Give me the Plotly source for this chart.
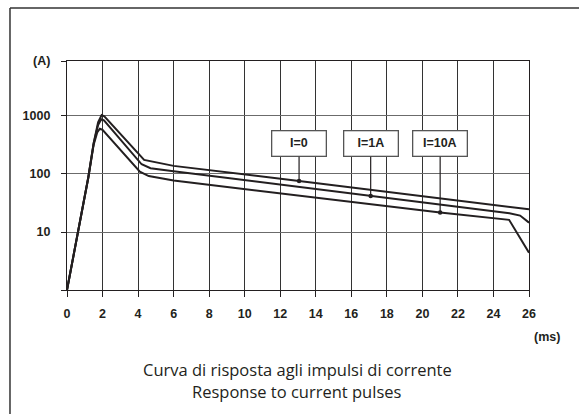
import numpy as np
import plotly.graph_objects as go

# time (ms) / current (A)
x_i0 = [0, 0.62, 1.2, 1.5, 1.75, 1.95, 2.1, 4.34, 6, 13.06, 26]
y_i0 = [1, 10, 88, 340, 780, 1040, 990, 175, 138, 75.8, 24.6]

x_i1 = [0, 0.62, 1.2, 1.5, 1.75, 1.93, 2.08, 4.2, 4.7, 6, 17.09, 24.9, 25.5, 26]
y_i1 = [1, 10, 88, 335, 700, 877, 840, 147, 126, 112, 41.8, 21, 19.2, 14.5]

x_i10 = [0, 0.62, 1.2, 1.5, 1.7, 1.85, 2.0, 4.1, 4.6, 6, 21.0, 24.88, 26]
y_i10 = [1, 10, 86, 320, 520, 603, 575, 110, 92, 77, 21.6, 16.2, 4.4]

labels = ["I=0", "I=1A", "I=10A"]
label_x = [13.06, 17.09, 21.0]
label_y = [75.8, 41.8, 21.6]
label_box_y = 331  # level of the label boxes (A)

x_ticks = list(range(0, 27, 2))
y_top = 10 ** 3.947
y_ticks = [1, 10, 100, 1000, y_top]
y_ticktext = ["", "10", "100", "1000", "(A)"]

INK = "#231f20"
tick_font = dict(family="Arial", size=12.5, color=INK, weight="bold")
caption_font = dict(family="Open Sans", size=16.5, color=INK)

fig = go.Figure()

for xs, ys in [(x_i0, y_i0), (x_i1, y_i1), (x_i10, y_i10)]:
    fig.add_trace(go.Scatter(x=xs, y=ys, mode="lines",
                             line=dict(color=INK, width=2), showlegend=False))

# dots where the labels point
fig.add_trace(go.Scatter(x=label_x, y=label_y, mode="markers",
                         marker=dict(color=INK, size=4.5), showlegend=False))

annotations = []
for txt, lx, ly in zip(labels, label_x, label_y):
    annotations.append(dict(
        x=lx, y=np.log10(ly), xref="x", yref="y",
        text=txt, showarrow=True,
        ax=lx, ay=np.log10(label_box_y), axref="x", ayref="y",
        arrowhead=0, arrowwidth=1.2, arrowcolor=INK, standoff=0,
        width=53, height=24, borderpad=0, borderwidth=1.3,
        bordercolor="#555555", bgcolor="white",
        font=tick_font,
    ))

annotations.append(dict(text="(ms)", x=1.039, y=-0.205, xref="paper", yref="paper",
                        xanchor="center", yanchor="middle", showarrow=False, font=tick_font))
annotations.append(dict(text="Curva di risposta agli impulsi di corrente", x=0.498, y=-0.345,
                        xref="paper", yref="paper", xanchor="center", yanchor="middle",
                        showarrow=False, font=caption_font))
annotations.append(dict(text="Response to current pulses", x=0.498, y=-0.445,
                        xref="paper", yref="paper", xanchor="center", yanchor="middle",
                        showarrow=False, font=caption_font))

fig.update_layout(
    width=579, height=414, autosize=False,
    margin=dict(l=67, r=50, t=61, b=124),
    paper_bgcolor="white", plot_bgcolor="white",
    template="none",
    annotations=annotations,
    shapes=[
        dict(type="line", xref="paper", yref="paper", x0=-0.1234, x1=1.2, y0=1.2314, y1=1.2314,
             line=dict(color="#333333", width=1.5)),
        dict(type="line", xref="paper", yref="paper", x0=-0.1234, x1=-0.1234, y0=1.2314, y1=-0.6,
             line=dict(color="#333333", width=1.5)),
    ],
    xaxis=dict(
        range=[0, 26], tickvals=x_ticks, ticks="outside", ticklen=6, tickwidth=1,
        tickcolor=INK, showgrid=True, gridcolor="#333333", gridwidth=1,
        showline=True, linecolor=INK, linewidth=1.2, mirror=True, zeroline=False,
        tickfont=tick_font, ticklabelstandoff=6,
    ),
    yaxis=dict(
        type="log", range=[0, 3.948], tickvals=y_ticks, ticktext=y_ticktext,
        ticks="outside", ticklen=5, tickwidth=1, tickcolor=INK,
        showgrid=True, gridcolor="#6b6b6b", gridwidth=1.2,
        showline=True, linecolor=INK, linewidth=1.2, mirror=True, zeroline=False,
        tickfont=tick_font, ticklabelstandoff=8,
    ),
)

# drop the default page margin so the figure sits at the window's corner
fig.write_html("out.html", config={"displayModeBar": False},
               post_script="document.body.style.margin = '0';")
